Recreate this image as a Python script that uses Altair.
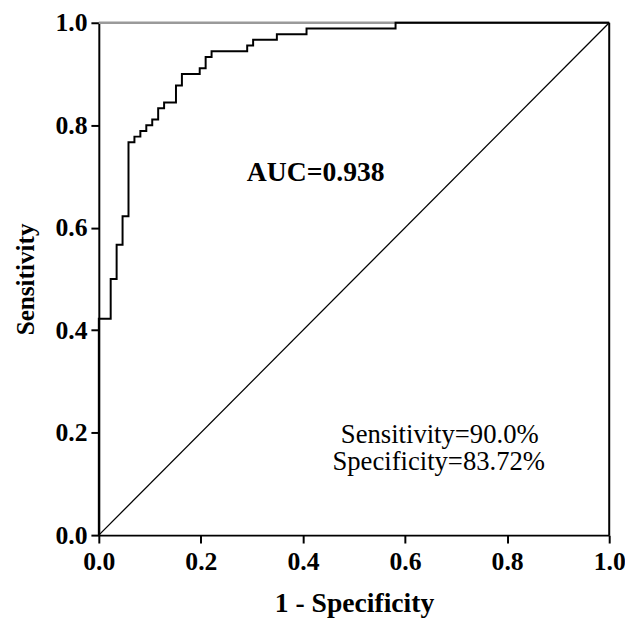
import altair as alt
import pandas as pd

# ROC curve vertices: false-positive counts (of 86 negatives) and
# true-positive counts (of 90 positives)
fp_counts = [0, 0, 2, 2, 3, 3, 4, 4, 5, 5, 6, 6, 7, 7, 8, 8, 9, 9, 10, 10,
             11, 11, 13, 13, 14, 14, 17, 17, 18, 18, 19, 19, 25, 25, 26, 26,
             30, 30, 35, 35, 50, 50, 86]
tp_counts = [0, 38, 38, 45, 45, 51, 51, 56, 56, 69, 69, 70, 70, 71, 71, 72,
             72, 73, 73, 75, 75, 76, 76, 79, 79, 81, 81, 82, 82, 84, 84, 85,
             85, 86, 86, 87, 87, 88, 88, 89, 89, 90, 90]
n_neg = 86
n_pos = 90

auc_label = "AUC=0.938"
stat_labels = ["Sensitivity=90.0%", "Specificity=83.72%"]
tick_values = [0.0, 0.2, 0.4, 0.6, 0.8, 1.0]

roc = pd.DataFrame({
    "idx": list(range(len(fp_counts))),
    "fpr": [k / n_neg for k in fp_counts],
    "tpr": [j / n_pos for j in tp_counts],
})
diag = pd.DataFrame({"fpr": [0.0, 1.0], "tpr": [0.0, 1.0]})

FONT = "Liberation Serif"

xscale = alt.Scale(domain=[0, 1], nice=False, zero=False)
yscale = alt.Scale(domain=[0, 1], nice=False, zero=False)

xaxis = alt.Axis(values=tick_values, format=".1f", title="1 - Specificity",
                 grid=False, labelFont=FONT, labelFontSize=26, labelFontWeight="bold",
                 labelColor="black", titleFont=FONT, titleFontSize=28,
                 titleFontWeight="bold", titleColor="black", domainColor="black",
                 domainWidth=2, tickColor="black", tickWidth=2, tickSize=8,
                 labelPadding=6, titlePadding=15, labelFlush=False)
yaxis = alt.Axis(values=tick_values, format=".1f", title="Sensitivity",
                 grid=False, labelFont=FONT, labelFontSize=26, labelFontWeight="bold",
                 labelColor="black", titleFont=FONT, titleFontSize=25.5,
                 titleFontWeight="bold", titleColor="black", domainColor="black",
                 domainWidth=2, tickColor="black", tickWidth=2, tickSize=8,
                 labelPadding=4, titlePadding=17, labelFlush=False)

base_roc = alt.Chart(roc).mark_line(color="black", strokeWidth=2).encode(
    x=alt.X("fpr:Q", scale=xscale, axis=xaxis),
    y=alt.Y("tpr:Q", scale=yscale, axis=yaxis),
    order="idx:O",
)

diag_line = alt.Chart(diag).mark_line(color="black", strokeWidth=1.3).encode(
    x=alt.X("fpr:Q", scale=xscale),
    y=alt.Y("tpr:Q", scale=yscale),
)

frame = pd.DataFrame({"x": [0.0], "x2": [1.0], "y": [1.0], "y2": [1.0]})
top_rule = alt.Chart(frame).mark_rule(color="#9a9a9a", strokeWidth=2.5).encode(
    x=alt.X("x:Q", scale=xscale), x2="x2", y=alt.Y("y:Q", scale=yscale))
right_df = pd.DataFrame({"x": [1.0], "y": [0.0], "y2": [1.0]})
right_rule = alt.Chart(right_df).mark_rule(color="black", strokeWidth=2).encode(
    x=alt.X("x:Q", scale=xscale), y=alt.Y("y:Q", scale=yscale), y2="y2")

auc_df = pd.DataFrame({"x": [0.425], "y": [0.692], "t": [auc_label]})
auc_text = alt.Chart(auc_df).mark_text(font=FONT, fontSize=28, fontWeight="bold",
                                       color="black", align="center",
                                       baseline="alphabetic").encode(
    x=alt.X("x:Q", scale=xscale), y=alt.Y("y:Q", scale=yscale), text="t:N")

stat_df = pd.DataFrame({"x": [0.668, 0.666], "y": [0.1805, 0.127], "t": stat_labels})
stat_text = alt.Chart(stat_df).mark_text(font=FONT, fontSize=27, color="black",
                                         align="center", baseline="alphabetic").encode(
    x=alt.X("x:Q", scale=xscale), y=alt.Y("y:Q", scale=yscale), text="t:N")

chart = alt.layer(top_rule, right_rule, diag_line, base_roc, auc_text, stat_text).properties(
    width=517, height=519,
    autosize=alt.AutoSizeParams(type="none"),
    padding={"left": 92, "top": 11, "right": 16, "bottom": 81},
).configure_view(stroke=None).configure(background="white")

chart.save("out.html", embed_options={"renderer": "svg", "actions": False})
